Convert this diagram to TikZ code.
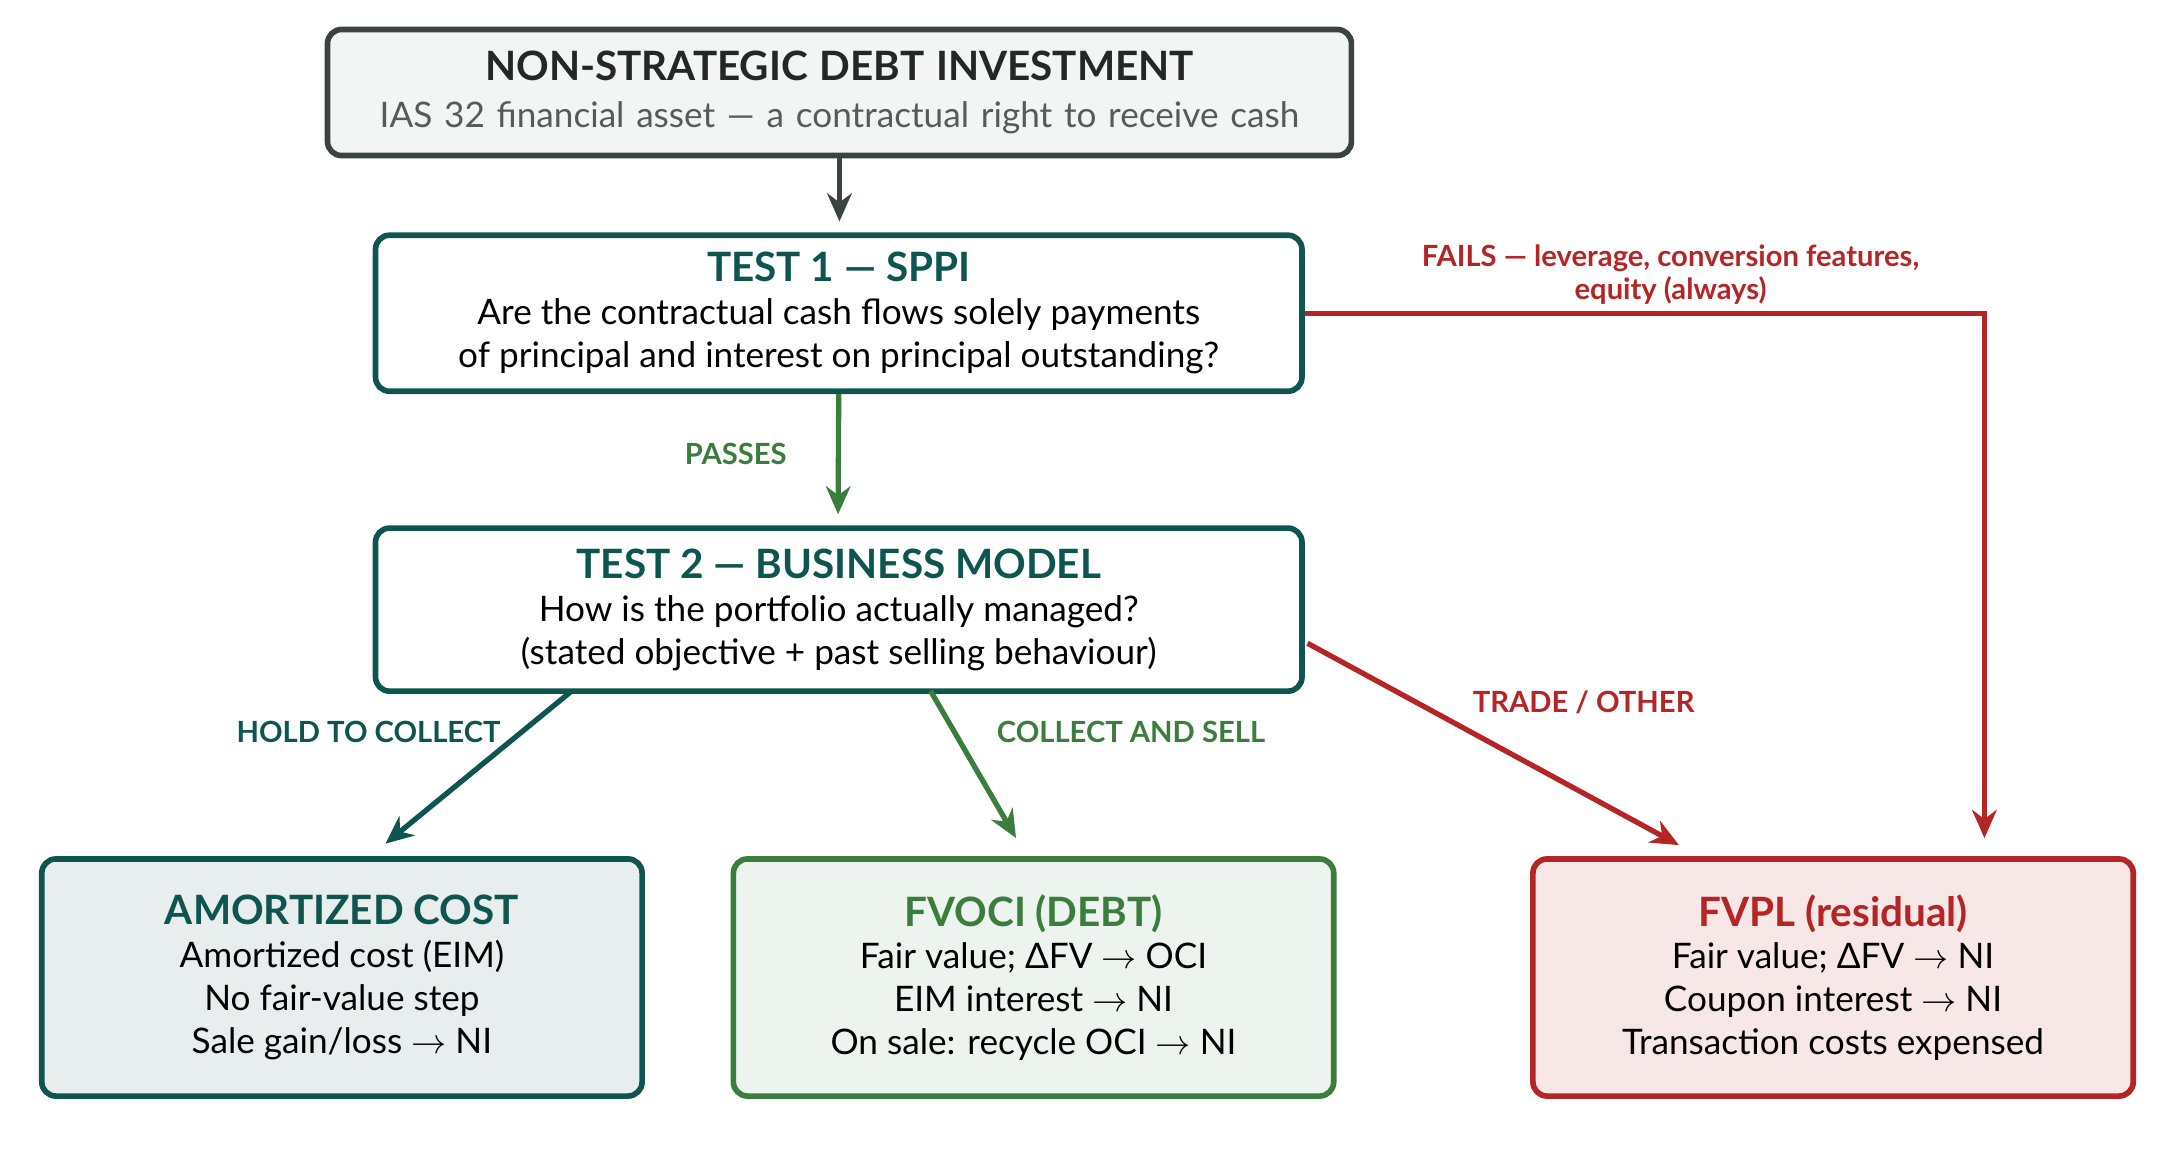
\documentclass[tikz,border=0pt]{standalone}
\usepackage{fontspec}
\setmainfont{Lato}
\usetikzlibrary{arrows.meta}
\definecolor{teal}{HTML}{0E5550}
\definecolor{grn}{HTML}{3B7D3D}
\definecolor{red}{HTML}{B52525}
\definecolor{gry}{HTML}{3A4242}
\tikzset{
  box/.style={draw, line width=1.6pt, rounded corners=4pt, align=center, font=\fontsize{10}{12.2}\selectfont},
  lab/.style={font=\fontsize{8.3}{9.5}\selectfont\bfseries, align=center},
  arr/.style={line width=1.5pt, -{Stealth[length=8pt,width=7pt]}}
}
\begin{document}
\begin{tikzpicture}[x=0.014014cm, y=-0.014014cm]
 	\useasboundingbox (0,0) rectangle (1552,832.7);
 	\node[box, draw=gry, fill=gry!6, minimum width=722\pgfmatrixcolumnsep, text width=10cm, minimum width=10.12cm, minimum height=1.26cm] (inv) at (599,66)
 	 {{\fontsize{11.5}{13}\selectfont\bfseries\color{black!85}NON-STRATEGIC DEBT INVESTMENT}\\[1pt]{\color{black!65}IAS 32 financial asset — a contractual right to receive cash}};
 	\node[box, draw=teal, fill=white, minimum width=9.26cm, minimum height=1.56cm] (sppi) at (598.5,223.5)
 	 {{\fontsize{11.5}{13}\selectfont\bfseries\color{teal}TEST 1 — SPPI}\\Are the contractual cash flows solely payments\\of principal and interest on principal outstanding?};
 	\node[box, draw=teal, fill=white, minimum width=9.26cm, minimum height=1.63cm] (bm) at (598.5,435)
 	 {{\fontsize{11.5}{13}\selectfont\bfseries\color{teal}TEST 2 — BUSINESS MODEL}\\How is the portfolio actually managed?\\(stated objective + past selling behaviour)};
 	\node[box, draw=teal, fill=teal!10, minimum width=6cm, minimum height=2.37cm] (ac) at (244,697.5)
 	 {{\fontsize{11.5}{13}\selectfont\bfseries\color{teal}AMORTIZED COST}\\Amortized cost (EIM)\\No fair-value step\\Sale gain/loss $\rightarrow$ NI};
 	\node[box, draw=grn, fill=grn!9, minimum width=6cm, minimum height=2.37cm] (oci) at (737.5,697.5)
 	 {{\fontsize{11.5}{13}\selectfont\bfseries\color{grn}FVOCI (DEBT)}\\Fair value; ΔFV $\rightarrow$ OCI\\EIM interest $\rightarrow$ NI\\On sale: recycle OCI $\rightarrow$ NI};
 	\node[box, draw=red, fill=red!11, minimum width=6cm, minimum height=2.37cm] (pl) at (1308,697.5)
 	 {{\fontsize{11.5}{13}\selectfont\bfseries\color{red}FVPL (residual)}\\Fair value; ΔFV $\rightarrow$ NI\\Coupon interest $\rightarrow$ NI\\Transaction costs expensed};
 	% connectors
 	\draw[arr, gry] (inv.south) -- (599,158);
 	\draw[arr, grn] (sppi.south) -- (598,367);
 	\node[lab, grn] (pass) at (525,324) {PASSES};
 	\coordinate (turn) at (1416,223.5);
 	\draw[arr, red] (sppi.east) -- (turn) -- (1416,598);
 	\node[lab, red] (fail) at (1192,196) {FAILS — leverage, conversion features,\\equity (always)};
 	\coordinate (hs) at (408,493);
 	\coordinate (cs) at (664,493);
 	\coordinate (ts) at (933,459);
 	\draw[arr, teal] (hs) -- (275,602);
 	\draw[arr, grn] (cs) -- (725,598);
 	\draw[arr, red] (ts) -- (1198,603);
 	\node[lab, teal] (htc) at (263,522) {HOLD TO COLLECT};
 	\node[lab, grn] (cas) at (807,522) {COLLECT AND SELL};
 	\node[lab, red] (trd) at (1130,501) {TRADE / OTHER};
\end{tikzpicture}
\end{document}
